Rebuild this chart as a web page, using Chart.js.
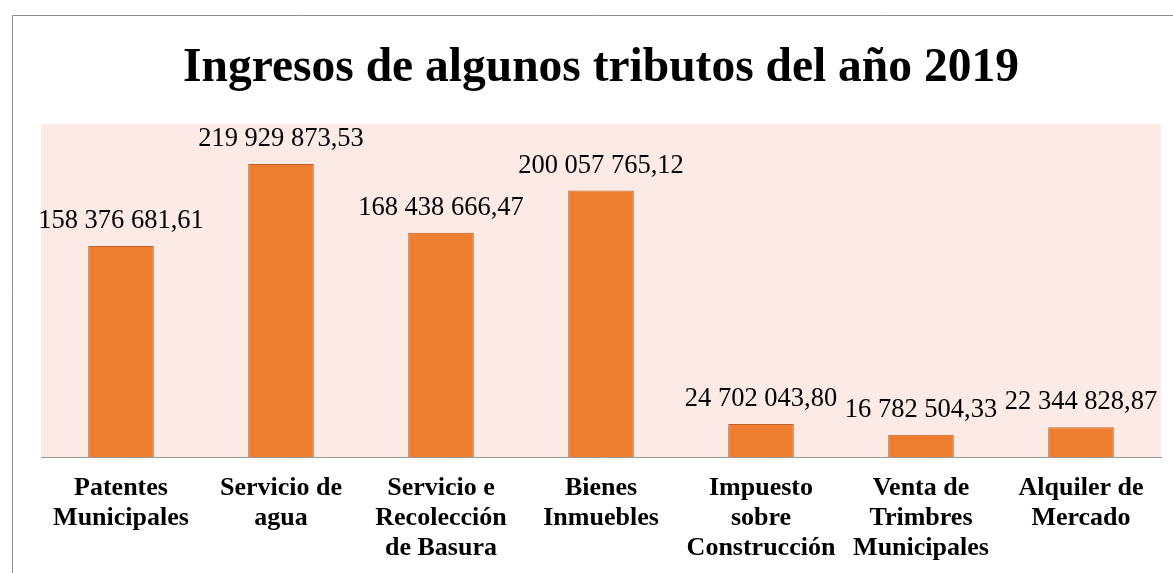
<!DOCTYPE html>
<html>
<head>
<meta charset="utf-8">
<script src="https://cdn.jsdelivr.net/npm/chart.js@4"></script>
<style>
    html, body { margin: 0; padding: 0; background: #fff; }
    #wrap { position: relative; width: 1173px; height: 573px; }
</style>
</head>
<body>
<div id="wrap"><canvas id="chart"></canvas></div>
<script>
// Categories and values
const categories = [
    ['Patentes', 'Municipales'],
    ['Servicio de', 'agua'],
    ['Servicio e', 'Recolección', 'de Basura'],
    ['Bienes', 'Inmuebles'],
    ['Impuesto', 'sobre', 'Construcción'],
    ['Venta de', 'Trimbres', 'Municipales'],
    ['Alquiler de', 'Mercado']
];
const ingresos = [158376681.61, 219929873.53, 168438666.47, 200057765.12, 24702043.80, 16782504.33, 22344828.87];
const titleText = 'Ingresos de algunos tributos del año 2019';

const SERIF = "'Liberation Serif', 'Times New Roman', serif";

// 158376681.61 -> "158 376 681,61"
function formatValue(v) {
    const [ent, dec] = v.toFixed(2).split('.');
    return ent.replace(/\B(?=(\d{3})+(?!\d))/g, ' ') + ',' + dec;
}

const plotBackground = {
    id: 'plotBackground',
    beforeDraw(chart) {
        const { ctx, chartArea: a } = chart;
        ctx.save();
        ctx.fillStyle = '#FBEAE6';
        ctx.fillRect(a.left, a.top, a.right - a.left, a.bottom - a.top);
        // outer frame (only left and top edges are inside the picture)
        ctx.strokeStyle = '#8c8c8c';
        ctx.lineWidth = 1;
        ctx.beginPath();
        ctx.moveTo(12.5, chart.height);
        ctx.lineTo(12.5, 15.5);
        ctx.lineTo(chart.width, 15.5);
        ctx.stroke();
        ctx.restore();
    }
};

const valueLabels = {
    id: 'valueLabels',
    afterDatasetsDraw(chart) {
        const { ctx } = chart;
        const meta = chart.getDatasetMeta(0);
        ctx.save();
        ctx.font = '26.5px ' + SERIF;
        ctx.fillStyle = '#000';
        ctx.textAlign = 'center';
        ctx.textBaseline = 'alphabetic';
        meta.data.forEach((bar, i) => {
            ctx.fillText(formatValue(ingresos[i]), bar.x, bar.y - 18);
        });
        ctx.restore();
    }
};

new Chart(document.getElementById('chart'), {
    type: 'bar',
    data: {
        labels: categories,
        datasets: [{
            label: 'Ingresos',
            data: ingresos,
            backgroundColor: '#ED7D31',
            borderColor: '#BE6428',
            borderWidth: 1,
            categoryPercentage: 1,
            barPercentage: 0.41
        }]
    },
    options: {
        responsive: true,
        maintainAspectRatio: false,
        animation: false,
        layout: { padding: { left: 41, right: 12, top: 0, bottom: 0 } },
        plugins: {
            legend: { display: false },
            tooltip: { enabled: false },
            title: {
                display: true,
                text: titleText,
                color: '#000',
                font: { family: SERIF, size: 47.5, weight: 'bold', lineHeight: 1.2 },
                padding: { top: 40, bottom: 27 }
            }
        },
        scales: {
            x: {
                grid: { display: false, drawTicks: false },
                border: { display: true, color: '#9a9a9a', width: 1 },
                ticks: {
                    color: '#000',
                    padding: 16,
                    maxRotation: 0,
                    autoSkip: false,
                    font: { family: SERIF, size: 26, weight: 'bold', lineHeight: 1.154 }
                },
                afterFit(scale) { scale.height = 116; }
            },
            y: {
                display: false,
                min: 0,
                max: 250000000
            }
        }
    },
    plugins: [plotBackground, valueLabels]
});
</script>
</body>
</html>
